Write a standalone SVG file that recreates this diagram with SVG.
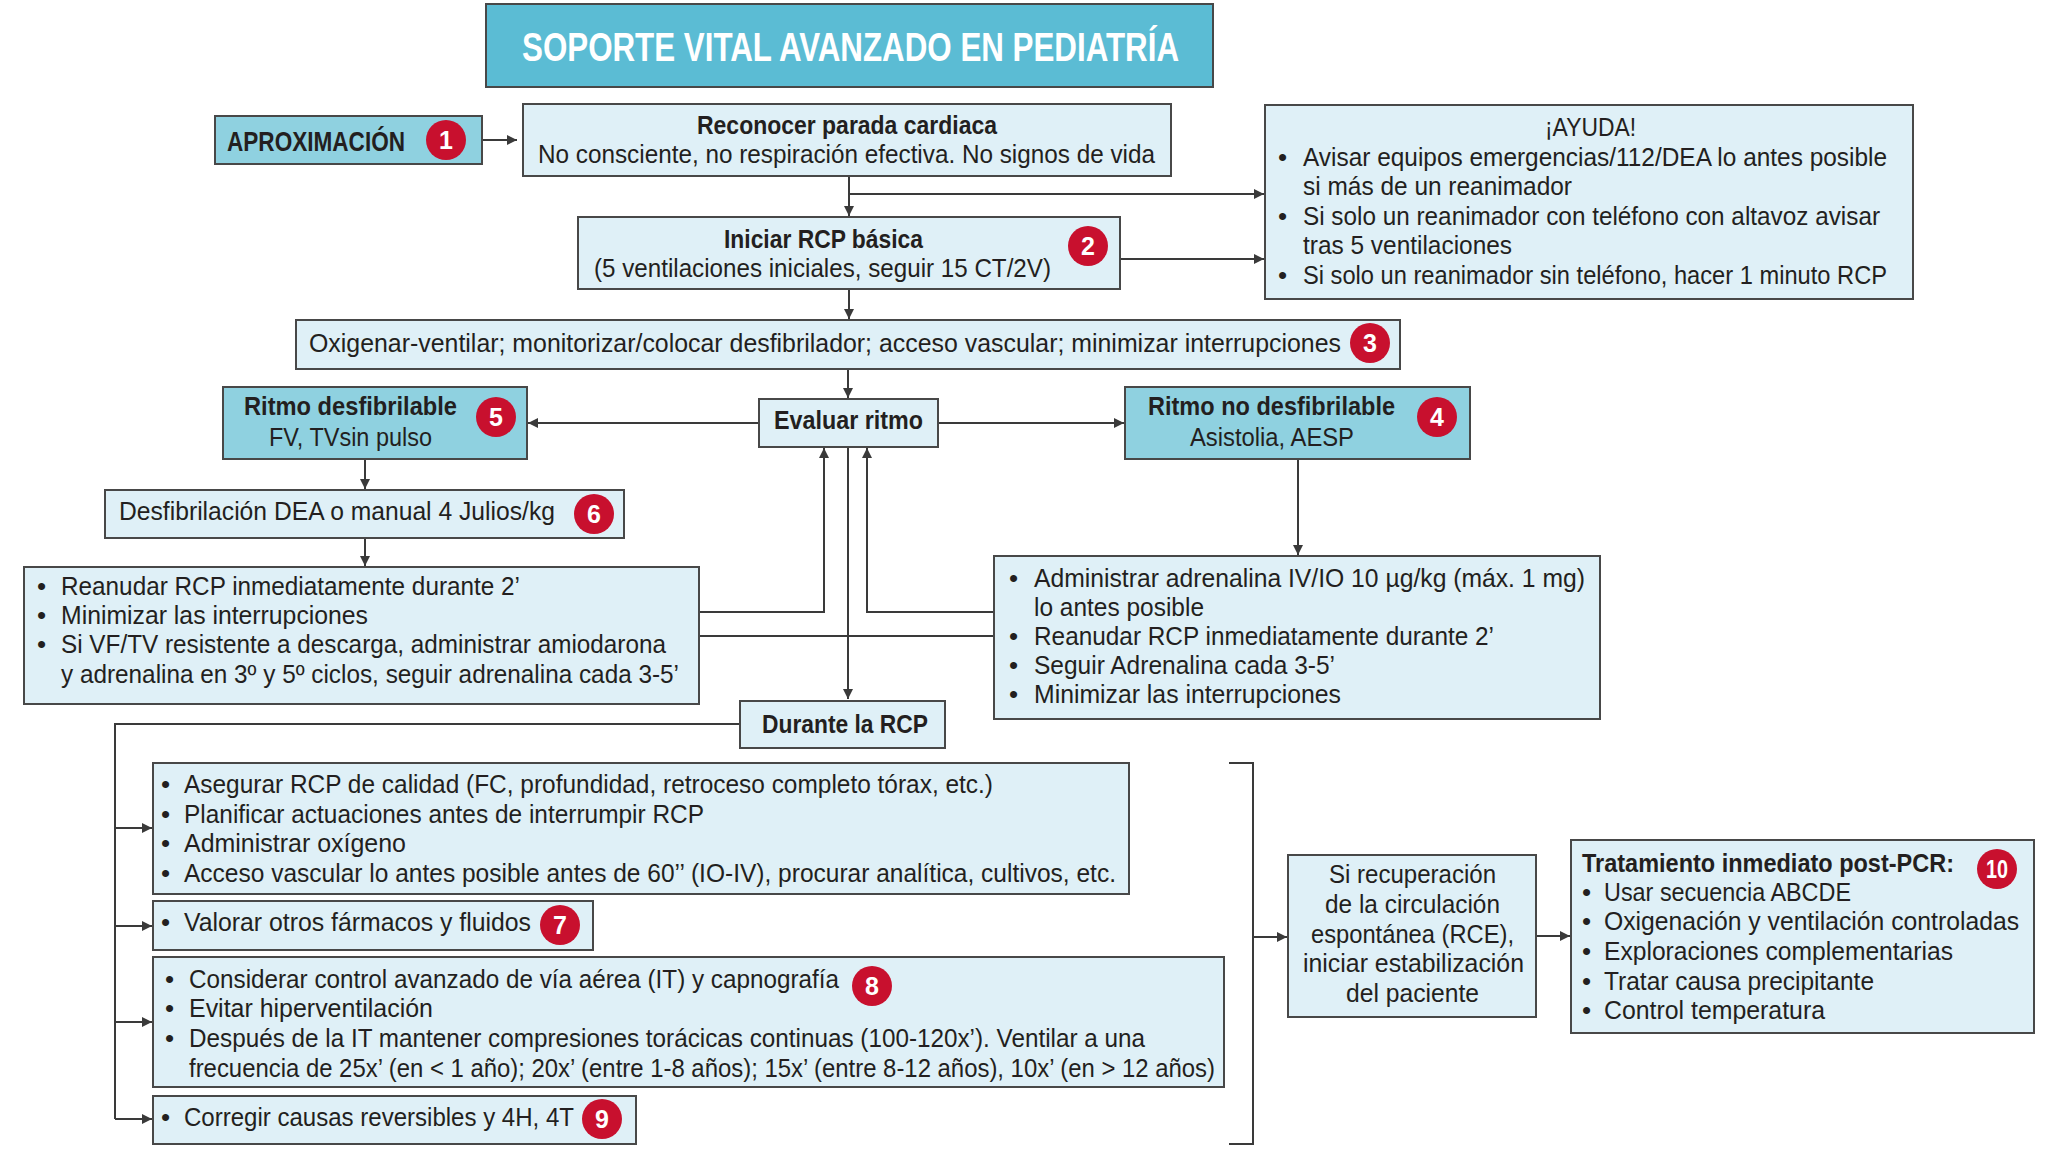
<svg xmlns="http://www.w3.org/2000/svg" width="2060" height="1153" viewBox="0 0 2060 1153">
<style>
.lb{fill:#dff0f7;stroke:#484848;stroke-width:2}
.mb{fill:#8fd1e0;stroke:#484848;stroke-width:2}
.tb{fill:#5bbcd4;stroke:#484848;stroke-width:2}
text{font-family:"Liberation Sans",Arial,sans-serif;font-size:26px;fill:#231f20}
.b{font-weight:bold}
.bd circle{fill:#c8102e}
.bd text{fill:#fff;font-weight:bold;font-size:25px;text-anchor:middle}
.ttl{fill:#fff;font-weight:bold;font-size:40px}
.c{stroke:#3a3a3a;stroke-width:2;fill:none}
.a{marker-end:url(#ah)}
</style>
<defs>
<marker id="ah" markerUnits="userSpaceOnUse" markerWidth="11" markerHeight="11" refX="10" refY="5" orient="auto">
<path d="M0,0 L10,5 L0,10 z" fill="#3a3a3a"/>
</marker>
</defs>
<rect width="2060" height="1153" fill="#fff"/>

<g id="connectors">
<path class="c a" d="M482,140 H517"/>
<path class="c a" d="M849,176 V216"/>
<path class="c a" d="M849,194 H1264"/>
<path class="c a" d="M1120,259 H1264"/>
<path class="c a" d="M849,289 V319"/>
<path class="c a" d="M848,369 V398"/>
<path class="c a" d="M758,423 H528"/>
<path class="c a" d="M938,423 H1124"/>
<path class="c a" d="M365,459 V489"/>
<path class="c a" d="M365,538 V566"/>
<path class="c a" d="M1298,459 V555"/>
<path class="c a" d="M699,612 H824 V448"/>
<path class="c a" d="M994,612 H867 V448"/>
<path class="c" d="M699,636 H994"/>
<path class="c a" d="M848,447 V699"/>
<path class="c" d="M740,724 H115 V1119"/>
<path class="c a" d="M115,828 H152"/>
<path class="c a" d="M115,926 H152"/>
<path class="c a" d="M115,1022 H152"/>
<path class="c a" d="M115,1119 H152"/>
<path class="c" d="M1229,763 H1253 V1144 H1229"/>
<path class="c a" d="M1253,937 H1287"/>
<path class="c a" d="M1536,936 H1570"/>
</g>

<g id="title">
<rect class="tb" x="486" y="4" width="727" height="83"/>
<text class="ttl" x="522" y="61" textLength="657" lengthAdjust="spacingAndGlyphs">SOPORTE VITAL AVANZADO EN PEDIATRÍA</text>
</g>

<g id="aproximacion">
<rect class="mb" x="215" y="116" width="267" height="48"/>
<text class="b" x="227" y="151" style="font-size:28px" textLength="178" lengthAdjust="spacingAndGlyphs">APROXIMACIÓN</text>
<g class="bd"><circle cx="446" cy="140" r="20"/><text x="446" y="149">1</text></g>
</g>

<g id="reconocer">
<rect class="lb" x="523" y="104" width="648" height="72"/>
<text class="b" x="697" y="134" textLength="300" lengthAdjust="spacingAndGlyphs">Reconocer parada cardiaca</text>
<text x="538" y="163" textLength="617" lengthAdjust="spacingAndGlyphs">No consciente, no respiración efectiva. No signos de vida</text>
</g>

<g id="iniciar">
<rect class="lb" x="578" y="217" width="542" height="72"/>
<text class="b" x="724" y="248" textLength="199" lengthAdjust="spacingAndGlyphs">Iniciar RCP básica</text>
<text x="594" y="277" textLength="457" lengthAdjust="spacingAndGlyphs">(5 ventilaciones iniciales, seguir 15 CT/2V)</text>
<g class="bd"><circle cx="1088" cy="246" r="20"/><text x="1088" y="255">2</text></g>
</g>

<g id="ayuda">
<rect class="lb" x="1265" y="105" width="648" height="194"/>
<text x="1545" y="136" textLength="91" lengthAdjust="spacingAndGlyphs">¡AYUDA!</text>
<text x="1278" y="166">•</text>
<text x="1303" y="166" textLength="584" lengthAdjust="spacingAndGlyphs">Avisar equipos emergencias/112/DEA lo antes posible</text>
<text x="1303" y="195" textLength="269" lengthAdjust="spacingAndGlyphs">si más de un reanimador</text>
<text x="1278" y="225">•</text>
<text x="1303" y="225" textLength="577" lengthAdjust="spacingAndGlyphs">Si solo un reanimador con teléfono con altavoz avisar</text>
<text x="1303" y="254" textLength="209" lengthAdjust="spacingAndGlyphs">tras 5 ventilaciones</text>
<text x="1278" y="284">•</text>
<text x="1303" y="284" textLength="584" lengthAdjust="spacingAndGlyphs">Si solo un reanimador sin teléfono, hacer 1 minuto RCP</text>
</g>

<g id="oxigenar">
<rect class="lb" x="296" y="320" width="1104" height="49"/>
<text x="309" y="352" textLength="1032" lengthAdjust="spacingAndGlyphs">Oxigenar-ventilar; monitorizar/colocar desfibrilador; acceso vascular; minimizar interrupciones</text>
<g class="bd"><circle cx="1370" cy="343" r="20"/><text x="1370" y="352">3</text></g>
</g>

<g id="evaluar">
<rect class="lb" x="759" y="399" width="179" height="48"/>
<text class="b" x="774" y="429" textLength="149" lengthAdjust="spacingAndGlyphs">Evaluar ritmo</text>
</g>

<g id="ritmo-desf">
<rect class="mb" x="223" y="387" width="304" height="72"/>
<text class="b" x="244" y="415" textLength="213" lengthAdjust="spacingAndGlyphs">Ritmo desfibrilable</text>
<text x="269" y="446" textLength="163" lengthAdjust="spacingAndGlyphs">FV, TVsin pulso</text>
<g class="bd"><circle cx="496" cy="417" r="20"/><text x="496" y="426">5</text></g>
</g>

<g id="ritmo-no-desf">
<rect class="mb" x="1125" y="387" width="345" height="72"/>
<text class="b" x="1148" y="415" textLength="247" lengthAdjust="spacingAndGlyphs">Ritmo no desfibrilable</text>
<text x="1190" y="446" textLength="164" lengthAdjust="spacingAndGlyphs">Asistolia, AESP</text>
<g class="bd"><circle cx="1437" cy="417" r="20"/><text x="1437" y="426">4</text></g>
</g>

<g id="desfibrilacion">
<rect class="lb" x="105" y="490" width="519" height="48"/>
<text x="119" y="520" textLength="436" lengthAdjust="spacingAndGlyphs">Desfibrilación DEA o manual 4 Julios/kg</text>
<g class="bd"><circle cx="594" cy="514" r="20"/><text x="594" y="523">6</text></g>
</g>

<g id="reanudar-desf">
<rect class="lb" x="24" y="567" width="675" height="137"/>
<text x="37" y="595">•</text>
<text x="61" y="595" textLength="459" lengthAdjust="spacingAndGlyphs">Reanudar RCP inmediatamente durante 2’</text>
<text x="37" y="624">•</text>
<text x="61" y="624" textLength="307" lengthAdjust="spacingAndGlyphs">Minimizar las interrupciones</text>
<text x="37" y="653">•</text>
<text x="61" y="653" textLength="605" lengthAdjust="spacingAndGlyphs">Si VF/TV resistente a descarga, administrar amiodarona</text>
<text x="61" y="683" textLength="618" lengthAdjust="spacingAndGlyphs">y adrenalina en 3º y 5º ciclos, seguir adrenalina cada 3-5’</text>
</g>

<g id="adrenalina-no-desf">
<rect class="lb" x="994" y="556" width="606" height="163"/>
<text x="1009" y="587">•</text>
<text x="1034" y="587" textLength="551" lengthAdjust="spacingAndGlyphs">Administrar adrenalina IV/IO 10 µg/kg (máx. 1 mg)</text>
<text x="1034" y="616" textLength="170" lengthAdjust="spacingAndGlyphs">lo antes posible</text>
<text x="1009" y="645">•</text>
<text x="1034" y="645" textLength="460" lengthAdjust="spacingAndGlyphs">Reanudar RCP inmediatamente durante 2’</text>
<text x="1009" y="674">•</text>
<text x="1034" y="674" textLength="301" lengthAdjust="spacingAndGlyphs">Seguir Adrenalina cada 3-5’</text>
<text x="1009" y="703">•</text>
<text x="1034" y="703" textLength="307" lengthAdjust="spacingAndGlyphs">Minimizar las interrupciones</text>
</g>

<g id="durante">
<rect class="lb" x="740" y="701" width="205" height="47"/>
<text class="b" x="762" y="733" textLength="166" lengthAdjust="spacingAndGlyphs">Durante la RCP</text>
</g>

<g id="asegurar">
<rect class="lb" x="153" y="763" width="976" height="131"/>
<text x="161" y="793">•</text>
<text x="184" y="793" textLength="809" lengthAdjust="spacingAndGlyphs">Asegurar RCP de calidad (FC, profundidad, retroceso completo tórax, etc.)</text>
<text x="161" y="823">•</text>
<text x="184" y="823" textLength="520" lengthAdjust="spacingAndGlyphs">Planificar actuaciones antes de interrumpir RCP</text>
<text x="161" y="852">•</text>
<text x="184" y="852" textLength="222" lengthAdjust="spacingAndGlyphs">Administrar oxígeno</text>
<text x="161" y="882">•</text>
<text x="184" y="882" textLength="932" lengthAdjust="spacingAndGlyphs">Acceso vascular lo antes posible antes de 60’’ (IO-IV), procurar analítica, cultivos, etc.</text>
</g>

<g id="valorar">
<rect class="lb" x="153" y="901" width="440" height="49"/>
<text x="161" y="931">•</text>
<text x="184" y="931" textLength="347" lengthAdjust="spacingAndGlyphs">Valorar otros fármacos y fluidos</text>
<g class="bd"><circle cx="560" cy="925" r="20"/><text x="560" y="934">7</text></g>
</g>

<g id="via-aerea">
<rect class="lb" x="153" y="957" width="1071" height="130"/>
<text x="165" y="988">•</text>
<text x="189" y="988" textLength="650" lengthAdjust="spacingAndGlyphs">Considerar control avanzado de vía aérea (IT) y capnografía</text>
<g class="bd"><circle cx="872" cy="986" r="20"/><text x="872" y="995">8</text></g>
<text x="165" y="1017">•</text>
<text x="189" y="1017" textLength="244" lengthAdjust="spacingAndGlyphs">Evitar hiperventilación</text>
<text x="165" y="1047">•</text>
<text x="189" y="1047" textLength="956" lengthAdjust="spacingAndGlyphs">Después de la IT mantener compresiones torácicas continuas (100-120x’). Ventilar a una</text>
<text x="189" y="1077" textLength="1026" lengthAdjust="spacingAndGlyphs">frecuencia de 25x’ (en &lt; 1 año); 20x’ (entre 1-8 años); 15x’ (entre 8-12 años), 10x’ (en &gt; 12 años)</text>
</g>

<g id="corregir">
<rect class="lb" x="153" y="1096" width="483" height="48"/>
<text x="161" y="1126">•</text>
<text x="184" y="1126" textLength="390" lengthAdjust="spacingAndGlyphs">Corregir causas reversibles y 4H, 4T</text>
<g class="bd"><circle cx="602" cy="1119" r="20"/><text x="602" y="1128">9</text></g>
</g>

<g id="rce">
<rect class="lb" x="1288" y="855" width="248" height="162"/>
<text x="1329" y="883" textLength="167" lengthAdjust="spacingAndGlyphs">Si recuperación</text>
<text x="1325" y="913" textLength="175" lengthAdjust="spacingAndGlyphs">de la circulación</text>
<text x="1311" y="943" textLength="203" lengthAdjust="spacingAndGlyphs">espontánea (RCE),</text>
<text x="1303" y="972" textLength="221" lengthAdjust="spacingAndGlyphs">iniciar estabilización</text>
<text x="1346" y="1002" textLength="133" lengthAdjust="spacingAndGlyphs">del paciente</text>
</g>

<g id="post-pcr">
<rect class="lb" x="1571" y="840" width="463" height="193"/>
<text class="b" x="1582" y="872" textLength="372" lengthAdjust="spacingAndGlyphs">Tratamiento inmediato post-PCR:</text>
<g class="bd"><circle cx="1997" cy="869" r="20"/><text x="1997" y="878" textLength="22" lengthAdjust="spacingAndGlyphs">10</text></g>
<text x="1582" y="901">•</text>
<text x="1604" y="901" textLength="247" lengthAdjust="spacingAndGlyphs">Usar secuencia ABCDE</text>
<text x="1582" y="930">•</text>
<text x="1604" y="930" textLength="415" lengthAdjust="spacingAndGlyphs">Oxigenación y ventilación controladas</text>
<text x="1582" y="960">•</text>
<text x="1604" y="960" textLength="349" lengthAdjust="spacingAndGlyphs">Exploraciones complementarias</text>
<text x="1582" y="990">•</text>
<text x="1604" y="990" textLength="270" lengthAdjust="spacingAndGlyphs">Tratar causa precipitante</text>
<text x="1582" y="1019">•</text>
<text x="1604" y="1019" textLength="221" lengthAdjust="spacingAndGlyphs">Control temperatura</text>
</g>
</svg>
